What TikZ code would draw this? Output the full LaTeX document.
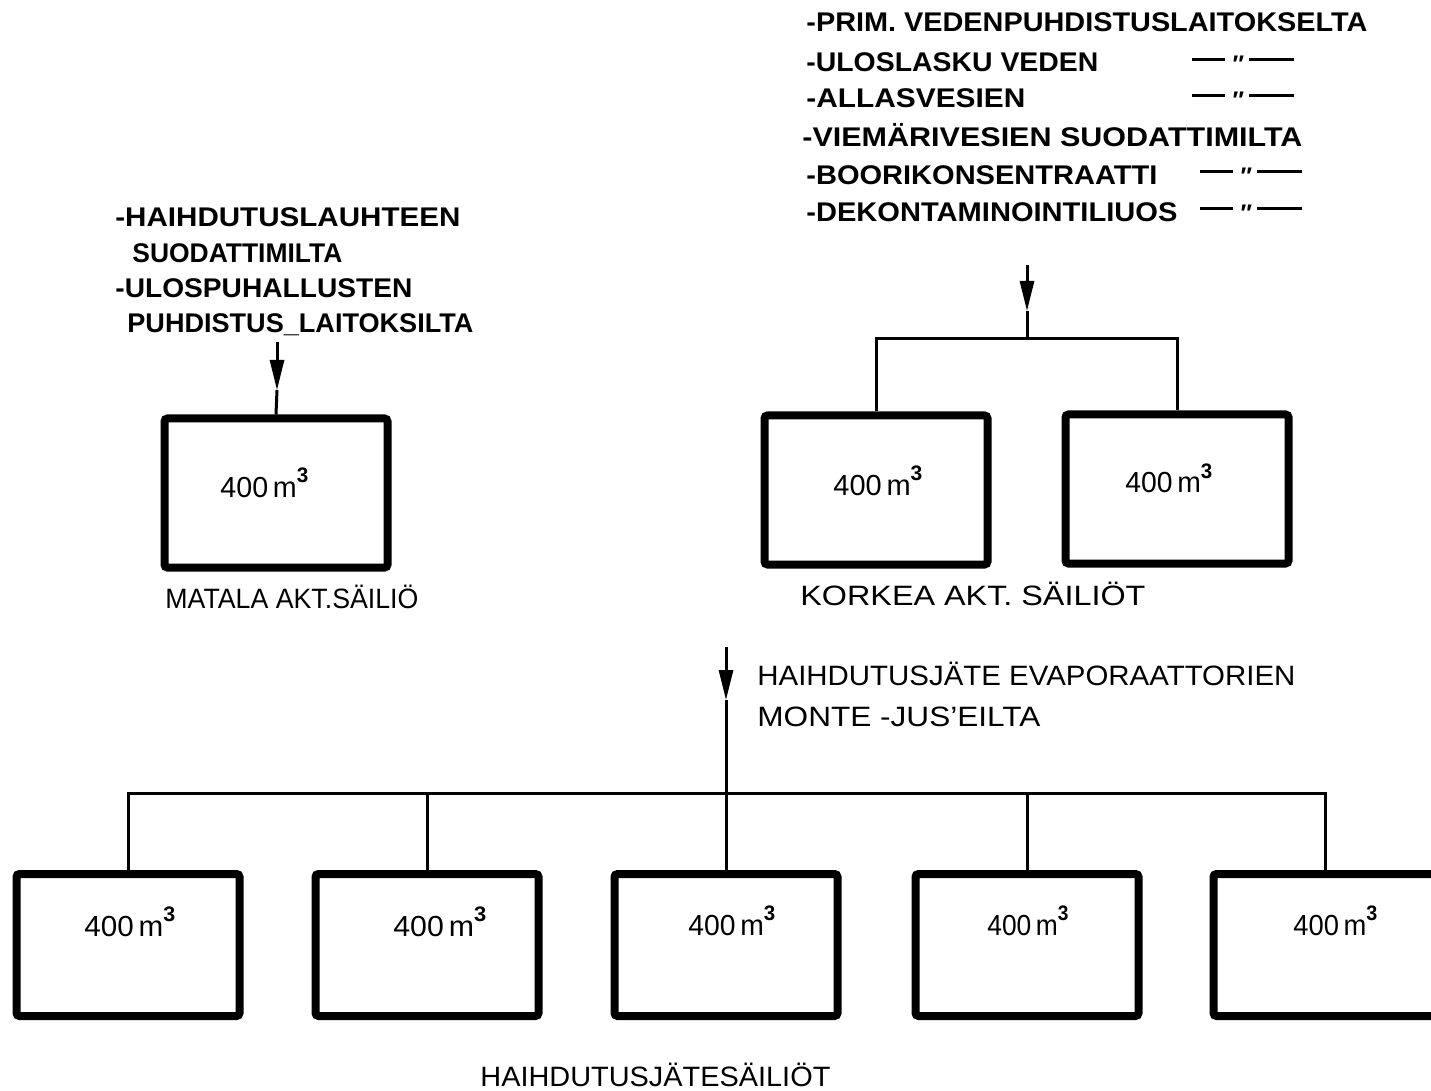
\documentclass[tikz,border=0pt]{standalone}
\usepackage{graphicx}
\usepackage{fontspec}
\setmainfont{Liberation Sans}
\usetikzlibrary{arrows.meta}
\newcommand{\fitw}[2]{\resizebox{#1}{\height}{#2}}
\newcommand{\dittosign}{\rule{16.5pt}{1.5pt}\hspace{3pt}\raisebox{-5.5pt}{\fontsize{12}{12}\selectfont\bfseries\itshape ″}\hspace{3pt}\rule{22.5pt}{1.5pt}}
\newcommand{\vol}{400\,m\raisebox{0.5em}{\fontsize{10.5}{10.5}\selectfont\bfseries 3}}
\begin{document}
\begin{tikzpicture}[x=0.5pt,y=-0.5pt,
  tank/.style={draw,line width=4pt,rounded corners=1.5pt,minimum width=111.5pt,inner sep=0pt},
  uptank/.style={tank,minimum height=74.5pt},
  lowtank/.style={tank,minimum height=71pt},
  pipe/.style={line width=1.5pt},
  feed/.style={pipe,-{Triangle[length=15pt,width=7pt]}},
  srctext/.style={anchor=base west,inner sep=0pt,font=\fontsize{13.5}{16}\selectfont\bfseries},
  lbl/.style={anchor=base west,inner sep=0pt,font=\fontsize{14}{16}\selectfont},
  voltext/.style={anchor=base west,inner sep=0pt,font=\fontsize{14.5}{16}\selectfont},
  dittomark/.style={anchor=base west,inner sep=0pt},
]
\useasboundingbox (0,0) rectangle (1431,1091);
\clip (0,0) rectangle (1431,1091);
\fill[white] (0,0) rectangle (1431,1091);

% ---- source texts, top right
\node[srctext] (t1) at (806,32) {\fitw{280.5pt}{-PRIM. VEDENPUHDISTUSLAITOKSELTA}};
\node[srctext] (t2) at (806,72) {\fitw{146pt}{-ULOSLASKU VEDEN}};
\node[srctext] (t3) at (806,108) {\fitw{109.5pt}{-ALLASVESIEN}};
\node[srctext] (t4) at (802,147) {\fitw{250pt}{-VIEMÄRIVESIEN SUODATTIMILTA}};
\node[srctext] (t5) at (806,185) {\fitw{175.5pt}{-BOORIKONSENTRAATTI}};
\node[srctext] (t6) at (806,222) {\fitw{185.5pt}{-DEKONTAMINOINTILIUOS}};
\node[dittomark] (d2) at (1192,61.5) {\dittosign};
\node[dittomark] (d3) at (1192,97.5) {\dittosign};
\node[dittomark] (d5) at (1200,173.5) {\dittosign};
\node[dittomark] (d6) at (1200,210.5) {\dittosign};

% ---- source texts, left
\node[srctext] (l1) at (115,227) {\fitw{172.5pt}{-HAIHDUTUSLAUHTEEN}};
\node[srctext] (l2) at (132,263) {\fitw{105pt}{SUODATTIMILTA}};
\node[srctext] (l3) at (115,298) {\fitw{148.5pt}{-ULOSPUHALLUSTEN}};
\node[srctext] (l4) at (127,333) {\fitw{173pt}{PUHDISTUS\_LAITOKSILTA}};

% ---- tanks, upper row
\node[uptank] (B1) at (276,493) {};
\node[uptank] (B2) at (876,490) {};
\node[uptank] (B3) at (1177,489) {};
\node[voltext] (v1) at (220,497) {\fitw{44pt}{\vol}};
\node[voltext] (v2) at (833,495) {\fitw{44.5pt}{\vol}};
\node[voltext] (v3) at (1125,493) {\fitw{43.5pt}{\vol}};
\node[lbl] (m1) at (165,608) {\fitw{126.5pt}{MATALA AKT.SÄILIÖ}};
\node[lbl] (m2) at (800,605) {\fitw{172.5pt}{KORKEA AKT. SÄILIÖT}};

% ---- tanks, lower row
\node[lowtank] (b1) at (128,945) {};
\node[lowtank] (b2) at (427,945) {};
\node[lowtank] (b3) at (726,945) {};
\node[lowtank] (b4) at (1027,945) {};
\node[lowtank] (b5) at (1325,945) {};
\node[voltext] (w1) at (84,936) {\fitw{45.5pt}{\vol}};
\node[voltext] (w2) at (393,936) {\fitw{46.5pt}{\vol}};
\node[voltext] (w3) at (688,935) {\fitw{43.5pt}{\vol}};
\node[voltext] (w4) at (987,935) {\fitw{40.5pt}{\vol}};
\node[voltext] (w5) at (1293,935) {\fitw{42pt}{\vol}};
\node[lbl] (m3) at (757,685) {\fitw{269pt}{HAIHDUTUSJÄTE EVAPORAATTORIEN}};
\node[lbl] (m4) at (757,726) {\fitw{141.5pt}{MONTE -JUS’EILTA}};
\node[lbl] (m5) at (480,1086) {\fitw{175pt}{HAIHDUTUSJÄTESÄILIÖT}};

% ---- connectors
\coordinate (s1) at (277,342);
\coordinate (s1t) at (277,390);
\draw[feed] (s1) -- (s1t);
\draw[pipe] (s1t) -- (B1.north);

\coordinate (s2) at (1027,265);
\coordinate (s2t) at (1027,311);
\coordinate (j1) at (1027,339);
\draw[feed] (s2) -- (s2t);
\draw[pipe] (s2t) -- (j1);
\draw[pipe] (B2.north) |- (j1) -| (B3.north);

\coordinate (s3) at (726,647);
\coordinate (s3t) at (726,700);
\coordinate (j2) at (726,793);
\draw[feed] (s3) -- (s3t);
\draw[pipe] (s3t) -- (b3.north);
\draw[pipe] (b1.north) |- (j2) -| (b5.north);
\draw[pipe] (b2.north) -- (b2.north |- j2);
\draw[pipe] (b4.north) -- (b4.north |- j2);
\end{tikzpicture}
\end{document}
